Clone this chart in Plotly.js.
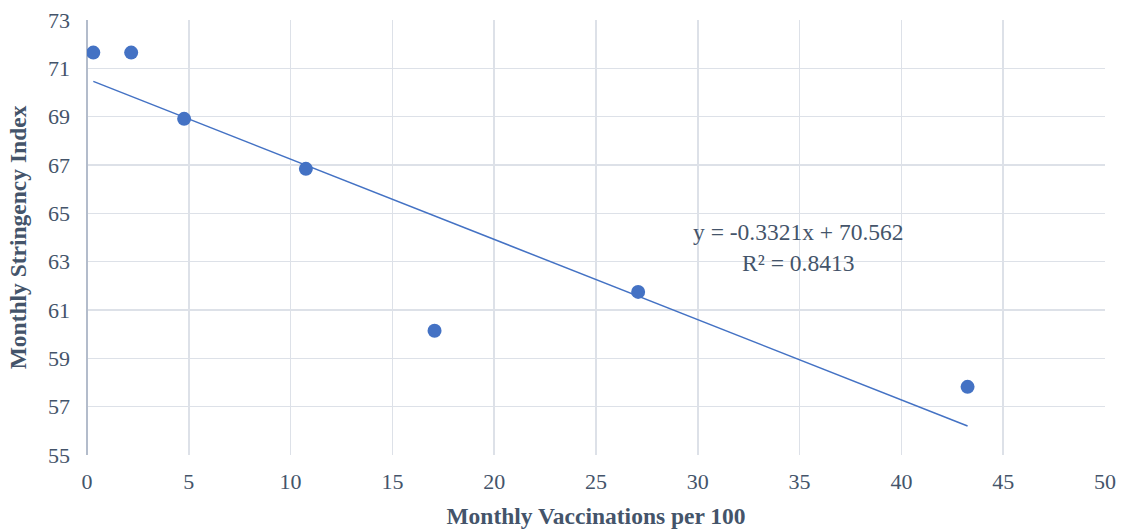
<!DOCTYPE html>
<html>
<head>
<meta charset="utf-8">
<script src="https://cdn.plot.ly/plotly-3.0.1.min.js"></script>
<style>html,body{margin:0;padding:0;background:#fff;}#chart{width:1122px;height:531px;}</style>
</head>
<body>
<div id="chart"></div>
<script>
const vaccinations = [0.31, 2.17, 4.77, 10.75, 17.07, 27.07, 43.25];
const stringency = [71.65, 71.65, 68.91, 66.84, 60.14, 61.75, 57.82];
const slope = -0.3321;
const intercept = 70.562;
const r2 = 0.8413;

const xMin = Math.min(...vaccinations), xMax = Math.max(...vaccinations);
const trendX = [xMin, xMax];
const trendY = trendX.map(x => slope * x + intercept);

const blue = '#4472C4';
const textColor = '#44546a';
const font = "'Liberation Serif', 'Times New Roman', serif";

const data = [
  {x: trendX, y: trendY, mode: 'lines', type: 'scatter', line: {color: blue, width: 1.5}, hoverinfo: 'skip'},
  {x: vaccinations, y: stringency, mode: 'markers', type: 'scatter', marker: {color: blue, size: 14}}
];

const layout = {
  width: 1122, height: 531,
  margin: {l: 87, r: 17, t: 20, b: 76},
  paper_bgcolor: '#fff', plot_bgcolor: '#fff',
  showlegend: false,
  font: {family: font, color: textColor, size: 22},
  xaxis: {
    range: [0, 50], dtick: 5, tick0: 0,
    showgrid: true, gridcolor: '#dde1e8', gridwidth: 1.5,
    zeroline: true, zerolinecolor: '#b3bccb', zerolinewidth: 1.5,
    showline: false, ticks: '', ticklen: 0,
    ticklabelstandoff: 11,
    tickfont: {family: font, size: 22, color: textColor},
    title: {text: '<b>Monthly Vaccinations per 100</b>', font: {family: font, size: 23.5, color: textColor}, standoff: 14}
  },
  yaxis: {
    range: [55, 73], dtick: 2, tick0: 55,
    showgrid: true, gridcolor: '#dde1e8', gridwidth: 1.5,
    zeroline: false, showline: false, ticks: '',
    ticklabelstandoff: 16,
    tickfont: {family: font, size: 22, color: textColor},
    title: {text: '<b>Monthly Stringency Index</b>', font: {family: font, size: 23.5, color: textColor}, standoff: 14}
  },
  annotations: [{
    x: 34.97, y: 63.6, xref: 'x', yref: 'y',
    text: 'y = ' + slope + 'x + ' + intercept + '<br>R² = ' + r2,
    showarrow: false, align: 'center',
    font: {family: font, size: 23.5, color: textColor}
  }]
};

Plotly.newPlot('chart', data, layout, {displayModeBar: false, staticPlot: true});
</script>
</body>
</html>
